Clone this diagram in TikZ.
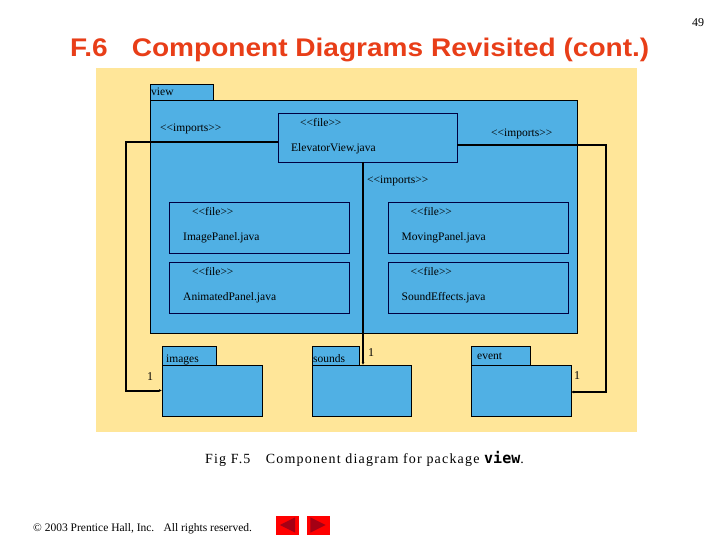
\documentclass[tikz,border=0pt]{standalone}
\usepackage{fontspec}
\setmainfont{Liberation Serif}
\newfontfamily\titlefont[FakeStretch=1.1]{Liberation Sans}
\newfontfamily\captionfont[LetterSpace=8.5]{Liberation Serif}
\newfontfamily\codefont{DejaVu Sans Mono}
\usetikzlibrary{positioning,arrows.meta}

\definecolor{pkgblue}{RGB}{80,176,228}
\definecolor{bgyellow}{RGB}{255,230,153}
\definecolor{titlered}{RGB}{232,62,24}
\definecolor{navred}{RGB}{255,0,0}
\definecolor{navdark}{RGB}{165,0,20}

\begin{document}
\begin{tikzpicture}[x=1pt,y=-1pt,
bg/.style={rectangle, fill=bgyellow, inner sep=0pt, outer sep=0pt},
pkg/.style={rectangle, draw=black, fill=pkgblue, line width=0.8pt, inner sep=0pt, outer sep=0pt},
filebox/.style={rectangle, draw=black!75!blue, fill=pkgblue, line width=0.8pt, inner sep=0pt, outer sep=0pt, minimum width=180, minimum height=51},
txt/.style={font=\fontsize{11.5}{13}\selectfont, inner sep=0pt, anchor=base west},
mult/.style={font=\fontsize{12}{13}\selectfont, inner sep=0pt, anchor=base west},
dep/.style={-{Latex[length=3pt,width=3pt]}, line width=2pt, black},
nav/.style={rectangle, fill=navred, inner sep=0pt, minimum width=23, minimum height=19}
]
\useasboundingbox (0,0) rectangle (720,540);

%Heading
\node[font=\titlefont\bfseries\fontsize{25.5}{28}\selectfont, text=titlered, inner sep=0pt, anchor=base west] (title) at (70,57) {F.6\hspace{0.95em}Component Diagrams Revisited (cont.)};
\node[font=\fontsize{12}{13}\selectfont, inner sep=0pt, anchor=base west] (pagenum) at (692,27) {49};

%Nodes
\node[bg, minimum width=541, minimum height=364] (back) at (366.5,250) {};

\node[pkg, minimum width=63, minimum height=16] (viewtab) at (181.5,92) {};
\node[pkg, minimum width=427, minimum height=233] (view) at (363.5,216.5) {};
\node[txt, anchor=base west] (viewlbl) at ([shift={(1,-4)}]viewtab.south west) {view};

\node[filebox, minimum width=179, minimum height=49] (EV) at (367.5,137.5) {};
\node[txt] (EVst) at ([shift={(22,14)}]EV.north west) {<{}<file>{}>};
\node[txt] (EVnm) at ([shift={(13,39)}]EV.north west) {ElevatorView.java};

\node[filebox] (IP) at (259,228) {};
\node[txt] (IPst) at ([shift={(23,13)}]IP.north west) {<{}<file>{}>};
\node[txt] (IPnm) at ([shift={(14,38)}]IP.north west) {ImagePanel.java};

\node[filebox] (MP) at (478.5,228) {};
\node[txt] (MPst) at ([shift={(22,13)}]MP.north west) {<{}<file>{}>};
\node[txt] (MPnm) at ([shift={(13,38)}]MP.north west) {MovingPanel.java};

\node[filebox] (AP) at (259,287.5) {};
\node[txt] (APst) at ([shift={(23,13)}]AP.north west) {<{}<file>{}>};
\node[txt] (APnm) at ([shift={(14,38)}]AP.north west) {AnimatedPanel.java};

\node[filebox] (SE) at (478.5,287.5) {};
\node[txt] (SEst) at ([shift={(22,13)}]SE.north west) {<{}<file>{}>};
\node[txt] (SEnm) at ([shift={(13,38)}]SE.north west) {SoundEffects.java};

\node[pkg, minimum width=54, minimum height=19] (IMGtab) at (189,355.5) {};
\node[pkg, minimum width=100, minimum height=51] (IMG) at (212,390.5) {};
\node[txt] (IMGlbl) at ([shift={(4,-3)}]IMGtab.south west) {images};

\node[pkg, minimum width=47, minimum height=19] (SNDtab) at (335.5,355.5) {};
\node[pkg, minimum width=99, minimum height=51] (SND) at (361.5,390.5) {};
\node[txt] (SNDlbl) at ([shift={(1,-3)}]SNDtab.south west) {sounds};

\node[pkg, minimum width=59, minimum height=19] (EVTtab) at (500.5,355.5) {};
\node[pkg, minimum width=100, minimum height=51] (EVT) at (521,390.5) {};
\node[txt] (EVTlbl) at ([shift={(6,-6)}]EVTtab.south west) {event};

%Labels
\node[txt] (impL) at (160,132) {<{}<imports>{}>};
\node[txt] (impR) at (491,137) {<{}<imports>{}>};
\node[txt] (impC) at (367,184) {<{}<imports>{}>};
\node[mult] (oneL) at (147,380) {1};
\node[mult] (oneC) at (368,356) {1};
\node[mult] (oneR) at (574,379) {1};

%Lines
\draw[dep] ([yshift=-4.5pt]EV.west) -- ++(-152,0) |- (IMG.west);
\draw[dep] ([yshift=-7.5pt]EV.east) -- ++(149,0) |- ([yshift=-1.5pt]EVT.east);
\draw[dep] ([xshift=-4.5pt]EV.south) -- ([xshift=-4.5pt]EV.south |- SND.north);

%Caption and footer
\node[font=\captionfont\fontsize{14}{16}\selectfont, inner sep=0pt, anchor=base west] (caption) at (205,463) {Fig F.5\hspace{1.1em}Component diagram for package {\codefont\bfseries\fontsize{15}{16}\selectfont view}.};
\node[font=\fontsize{11.5}{13}\selectfont, inner sep=0pt, anchor=base west] (copy) at (33,531) {\textcopyright{} 2003 Prentice Hall, Inc.\hspace{0.8em}All rights reserved.};
\node[nav] (navL) at (287.5,525) {};
\node[nav] (navR) at (318,525) {};
\fill[navdark] ([xshift=4pt]navL.west) -- ([shift={(-4,2)}]navL.north east) -- ([shift={(-4,-2)}]navL.south east) -- cycle;
\fill[navdark] ([xshift=-4pt]navR.east) -- ([shift={(4,2)}]navR.north west) -- ([shift={(4,-2)}]navR.south west) -- cycle;
\end{tikzpicture}
\end{document}
